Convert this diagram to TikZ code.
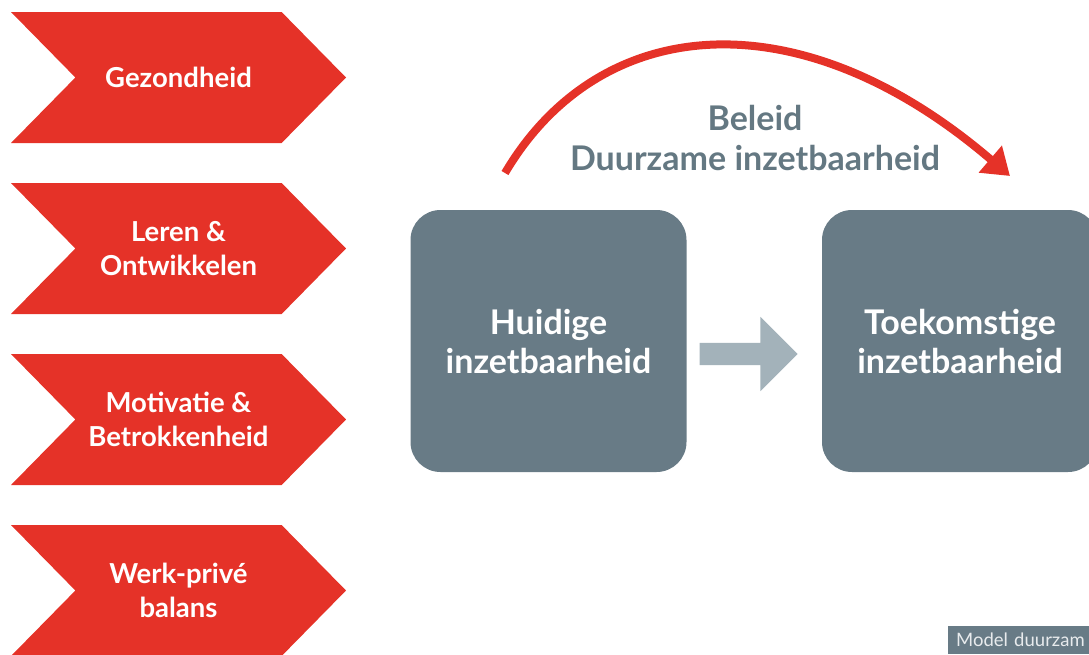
\documentclass[tikz,border=0pt]{standalone}
\usepackage{fontspec}
\setmainfont{Lato}
\usetikzlibrary{shapes.symbols,shapes.arrows,arrows.meta}

\definecolor{dirred}{HTML}{E53228}
\definecolor{boxgray}{HTML}{687B86}
\definecolor{arrowgray}{HTML}{A3B2BA}
\definecolor{textgray}{HTML}{647882}

\begin{document}
\begin{tikzpicture}[x=1pt, y=-1pt,
    pillar/.style={signal, signal from=west, signal to=east, signal pointer angle=91,
      fill=dirred, draw=none, minimum width=335pt, minimum height=131pt, inner sep=0pt,
      text=white, align=center, font=\bfseries\fontsize{27.5}{34}\selectfont},
    stage/.style={rectangle, rounded corners=30pt, fill=boxgray, minimum width=276pt,
      minimum height=262pt, text=white, align=center, font=\bfseries\fontsize{34}{39}\selectfont}]
    \clip (0,0) rectangle (1089,654);
    \node[pillar] (gez) at (178.5,77.5) {Gezondheid};
    \node[pillar] (leren) at (178.5,248.5) {Leren \&\\Ontwikkelen};
    \node[pillar] (motiv) at (178.5,419.5) {Motivatie \&\\Betrokkenheid};
    \node[pillar] (werk) at (178.5,590.5) {Werk-privé\\balans};
    \node[stage] (huidig) at (548.5,341) {Huidige\\inzetbaarheid};
    \node[stage] (toekomst) at (960,341) {Toekomstige\\inzetbaarheid};
    \node[single arrow, fill=arrowgray, minimum height=98pt, inner sep=11pt,
      single arrow head extend=26pt, anchor=center] (stap) at (743,354) {};
    \node[text=textgray, align=center, font=\bfseries\fontsize{34}{40}\selectfont] (beleid) at (755,138)
      {Beleid\\Duurzame inzetbaarheid};
    \coordinate (bstart) at (505,173);
    \coordinate (bend) at (1010,176);
    \draw[dirred, line width=8pt, -{Triangle[length=26pt, width=34pt]}]
      (bstart) .. controls (600,12) and (800,-4) .. (bend);
    \node[fill=boxgray, text=white!85!boxgray, anchor=south west, minimum height=28pt,
      text width=150pt, inner xsep=8pt, font=\fontsize{18.5}{20}\selectfont] (model) at (948,654) {Model duurzam};
\end{tikzpicture}
\end{document}
